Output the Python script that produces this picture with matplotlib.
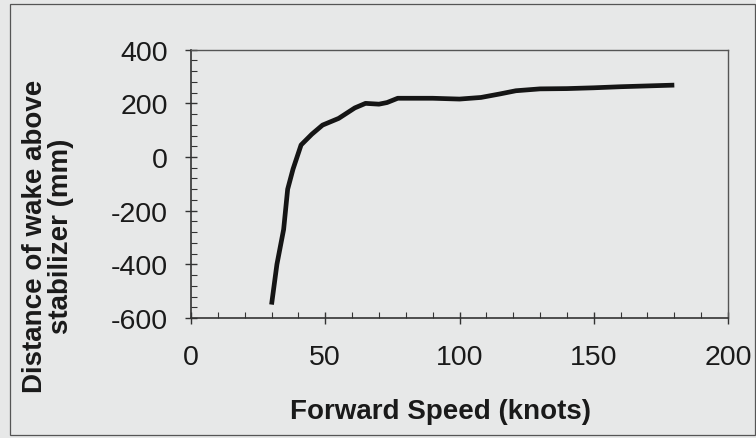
import matplotlib
matplotlib.use("Agg")
import matplotlib.pyplot as plt
from matplotlib.patches import Rectangle
from matplotlib.ticker import MultipleLocator

speed = [30, 32, 34.5, 36, 38, 41, 45, 49, 55, 61, 65, 70, 73, 77, 90, 100, 108, 115, 121, 130, 140, 150, 160, 170, 180]
distance = [-550, -400, -270, -120, -45, 45, 85, 119, 144, 183, 200, 197, 203, 219, 219, 216, 222, 235, 247, 254, 255, 258, 262, 265, 268]
x_ticks = [0, 50, 100, 150, 200]
y_ticks = [-600, -400, -200, 0, 200, 400]

plt.rcParams['font.family'] = ['Liberation Sans', 'DejaVu Sans']
plt.rcParams['axes.unicode_minus'] = False
bg = '#e7e8e8'
fig = plt.figure(figsize=(7.56, 4.39), dpi=100, facecolor=bg)
fig.patches.append(Rectangle((10/756, 1 - 436/439), 745/756, 431/439, transform=fig.transFigure,
                             fill=False, edgecolor='#555555', linewidth=0.9))
ax = fig.add_axes([191/756, 1 - 319/439, (728 - 191)/756, (319 - 50.7)/439])
ax.set_facecolor(bg)
ax.plot(speed, distance, color='#151515', linewidth=3.4, solid_capstyle='butt', solid_joinstyle='round')
ax.set_xlim(0, 200)
ax.set_ylim(-600, 400)
ax.set_xticks(x_ticks)
ax.set_yticks(y_ticks)
ax.xaxis.set_minor_locator(MultipleLocator(10))
ax.yaxis.set_minor_locator(MultipleLocator(40))
ax.tick_params(which='major', direction='inout', length=9, width=1.0, color='#333333', labelsize=20.5, labelcolor='#1a1a1a')
ax.tick_params(axis='x', which='major', pad=14)
ax.tick_params(axis='y', which='major', pad=12)
ax.tick_params(which='minor', direction='in', length=4, width=0.8, color='#333333')
for s in ['left', 'bottom']:
    ax.spines[s].set_color('#333333')
    ax.spines[s].set_linewidth(1.2)
for s in ['top', 'right']:
    ax.spines[s].set_color('#555555')
    ax.spines[s].set_linewidth(1.0)
fig.text(440/756, 1 - 412/439, 'Forward Speed (knots)', fontsize=20, fontweight='bold',
         color='#1a1a1a', ha='center', va='center')
fig.text(48/756, 1 - 236/439, 'Distance of wake above\nstabilizer (mm)', fontsize=20, fontweight='bold',
         color='#1a1a1a', rotation=90, ha='center', va='center', multialignment='center', linespacing=1.0)
fig.savefig('out.png', dpi=100, facecolor=bg)
